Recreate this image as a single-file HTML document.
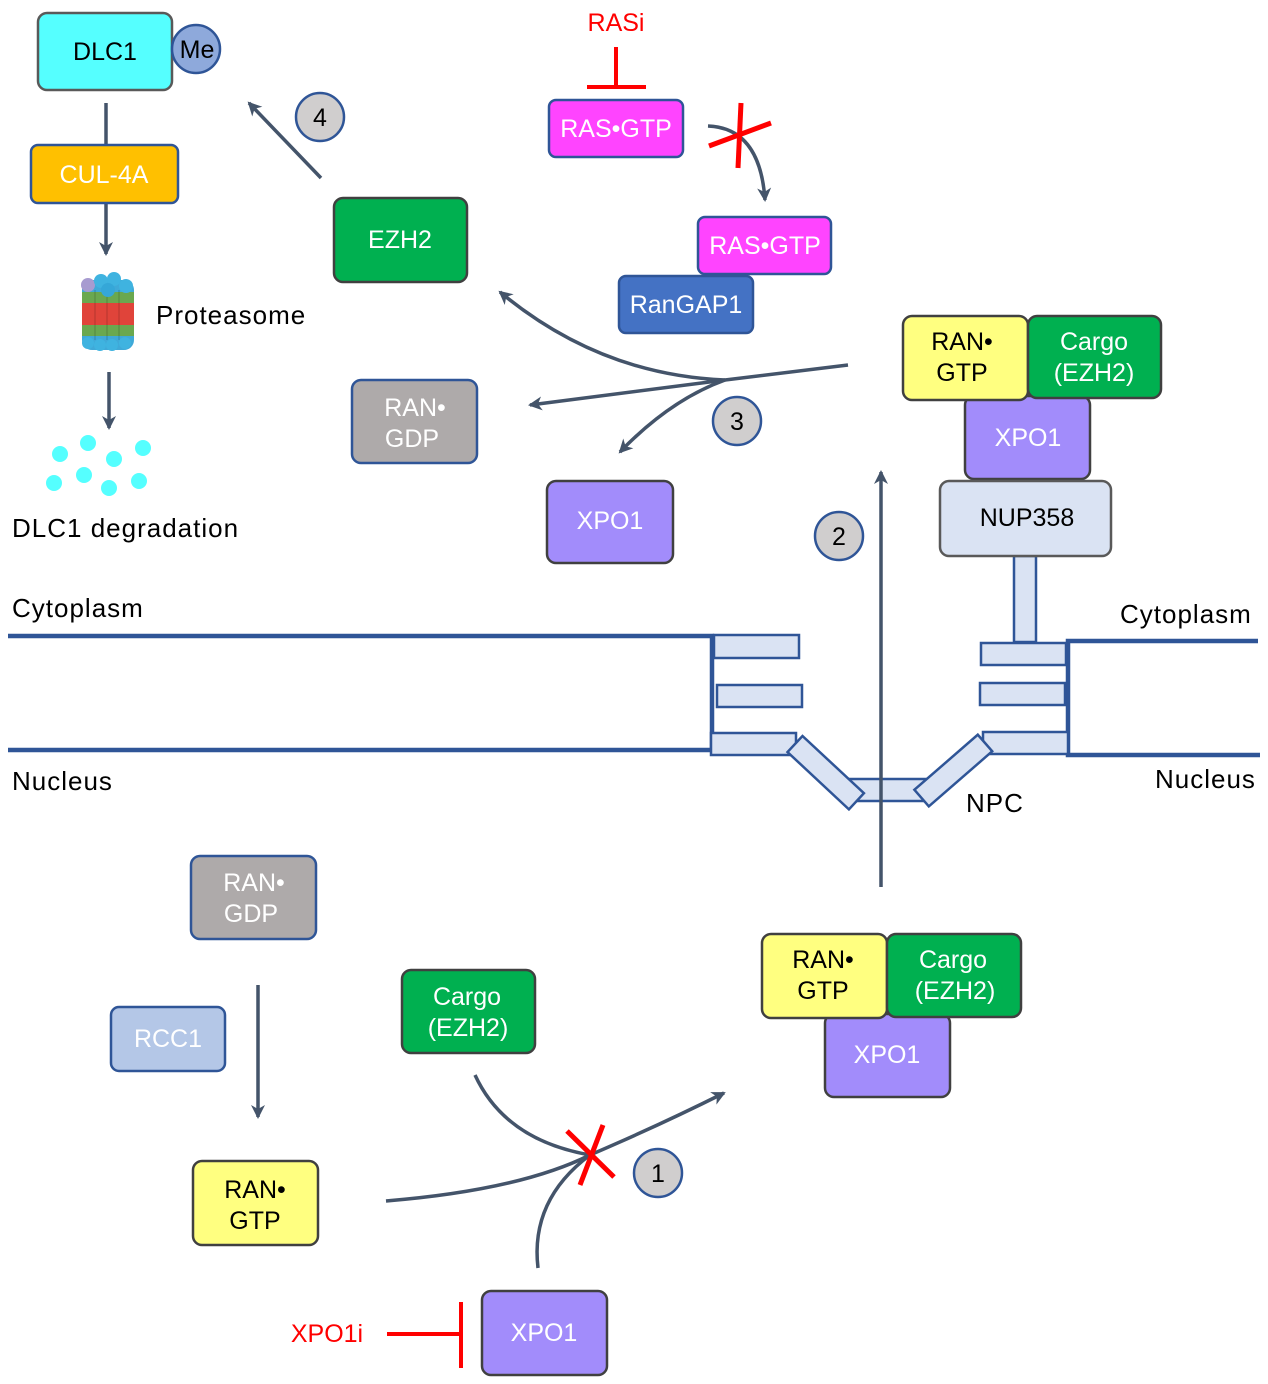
<!DOCTYPE html>
<html><head><meta charset="utf-8"><style>
html,body{margin:0;padding:0;background:#fff}
svg{display:block}
text{font-family:"Liberation Sans",sans-serif}
</style></head><body>
<svg width="1268" height="1384" viewBox="0 0 1268 1384" xmlns="http://www.w3.org/2000/svg">
<defs>
<marker id="ah2" markerWidth="16" markerHeight="16" refX="12" refY="8" orient="auto" markerUnits="userSpaceOnUse">
<path d="M0,1 L14,8 L0,15 L4,8 Z" fill="#44546a"/></marker>
</defs>
<g font-size="25" text-anchor="middle">
<g stroke="#2f5597" stroke-width="4.5" fill="none">
<path d="M8,636 H712 V750 H8"/>
<path d="M1258,641 H1068 V755 H1260"/>
</g>
<g fill="#dae3f3" stroke="#2f5597" stroke-width="2.5">
<rect x="714" y="635" width="85" height="23"/>
<rect x="717" y="685" width="85" height="22"/>
<rect x="711" y="733" width="85" height="22"/>
<rect x="1014" y="556" width="22" height="86"/>
<rect x="981" y="643" width="85" height="22"/>
<rect x="980" y="683" width="85" height="22"/>
<rect x="983" y="732" width="85" height="22"/>
<rect x="847" y="779" width="84" height="22"/>
<rect x="0" y="-11" width="84" height="22" transform="translate(795,744) rotate(43)"/>
<rect x="0" y="-11" width="84" height="22" transform="translate(985,743) rotate(139)"/>
</g>
<g stroke="#44546a" stroke-width="3.5" fill="none">
<line x1="881" y1="887" x2="881" y2="472" marker-end="url(#ah2)"/>
<line x1="106" y1="103" x2="106" y2="145"/>
<line x1="106" y1="203" x2="106" y2="254" marker-end="url(#ah2)"/>
<line x1="109" y1="372" x2="109" y2="428" marker-end="url(#ah2)"/>
<line x1="321" y1="178" x2="249" y2="103" marker-end="url(#ah2)"/>
<line x1="258" y1="985" x2="258" y2="1117" marker-end="url(#ah2)"/>
<path d="M848,365 L725,380 L530,405" marker-end="url(#ah2)"/>
<path d="M725,380 Q600,375 500,292" marker-end="url(#ah2)"/>
<path d="M725,380 Q670,400 620,452" marker-end="url(#ah2)"/>
<path d="M708,126 Q760,128 765,200" marker-end="url(#ah2)"/>
<path d="M386,1201 Q520,1190 590,1155 Q660,1125 724,1093" marker-end="url(#ah2)"/>
<path d="M475,1075 Q505,1140 590,1155"/>
<path d="M538,1268 Q530,1200 590,1155"/>
</g>
<g stroke="#f00" stroke-width="4" fill="none">
<line x1="616" y1="47" x2="616" y2="87"/>
<line x1="587" y1="87" x2="646" y2="87"/>
<line x1="387" y1="1334" x2="460" y2="1334"/>
<line x1="461" y1="1302" x2="461" y2="1368"/>
</g>
<g stroke="#f00" stroke-width="5">
<line x1="741" y1="103" x2="738" y2="168"/>
<line x1="709" y1="146" x2="771" y2="123"/>
<line x1="567" y1="1131" x2="614" y2="1177"/>
<line x1="603" y1="1125" x2="580" y2="1185"/>
</g>
<text x="616" y="31" fill="#f00">RASi</text>
<text x="327" y="1342" fill="#f00">XPO1i</text>
<g stroke-width="2.5">
<rect x="38" y="13" width="134" height="77" rx="9" fill="#5ff" stroke="#595959"/>
<circle cx="196" cy="49" r="24" fill="#8ea9db" stroke="#2f5597"/>
<rect x="31" y="145" width="147" height="58" rx="7" fill="#ffc000" stroke="#2f5597"/>
<rect x="334" y="198" width="133" height="84" rx="9" fill="#00b050" stroke="#404040"/>
<rect x="549" y="100" width="134" height="57" rx="7" fill="#f4f" stroke="#2f5597"/>
<rect x="698" y="217" width="133" height="57" rx="7" fill="#f4f" stroke="#2f5597"/>
<rect x="619" y="276" width="134" height="57" rx="7" fill="#4472c4" stroke="#2f5597"/>
<rect x="965" y="396" width="125" height="83" rx="9" fill="#a28cfb" stroke="#404040"/>
<rect x="903" y="316" width="125" height="84" rx="9" fill="#ffff80" stroke="#404040"/>
<rect x="1028" y="316" width="133" height="82" rx="9" fill="#00b050" stroke="#404040"/>
<rect x="940" y="481" width="171" height="75" rx="9" fill="#dae3f3" stroke="#595959"/>
<rect x="352" y="380" width="125" height="83" rx="9" fill="#aeaaaa" stroke="#2f5597"/>
<rect x="547" y="481" width="126" height="82" rx="9" fill="#a28cfb" stroke="#404040"/>
<rect x="191" y="856" width="125" height="83" rx="9" fill="#aeaaaa" stroke="#2f5597"/>
<rect x="111" y="1007" width="114" height="64" rx="8" fill="#b4c7e7" stroke="#2f5597"/>
<rect x="402" y="970" width="133" height="83" rx="9" fill="#00b050" stroke="#404040"/>
<rect x="193" y="1161" width="125" height="84" rx="9" fill="#ffff80" stroke="#404040"/>
<rect x="482" y="1291" width="125" height="84" rx="9" fill="#a28cfb" stroke="#404040"/>
<rect x="825" y="1014" width="125" height="83" rx="9" fill="#a28cfb" stroke="#404040"/>
<rect x="762" y="934" width="125" height="84" rx="9" fill="#ffff80" stroke="#404040"/>
<rect x="887" y="934" width="134" height="83" rx="9" fill="#00b050" stroke="#404040"/>
<circle cx="320" cy="117" r="24" fill="#d0cece" stroke="#2f5597"/>
<circle cx="737" cy="421" r="24" fill="#d0cece" stroke="#2f5597"/>
<circle cx="839" cy="536" r="24" fill="#d0cece" stroke="#2f5597"/>
<circle cx="658" cy="1173" r="24" fill="#d0cece" stroke="#2f5597"/>
</g>
<g>
<rect x="82" y="280" width="52" height="70" rx="10" fill="#3fa9d8"/>
<rect x="82" y="292" width="52" height="11" fill="#6aa84f"/>
<rect x="82" y="303" width="52" height="11" fill="#e0443a"/>
<rect x="82" y="314" width="52" height="11" fill="#e0443a"/>
<rect x="82" y="325" width="52" height="11" fill="#6aa84f"/>
<g fill="#3fb3e0"><circle cx="88" cy="343" r="6"/><circle cx="100" cy="345" r="6"/><circle cx="112" cy="345" r="6"/><circle cx="125" cy="343" r="6"/></g>
<g fill="none" stroke="rgba(0,0,0,0.2)" stroke-width="1"><line x1="95" y1="290" x2="95" y2="340"/><line x1="107" y1="290" x2="107" y2="340"/><line x1="119" y1="290" x2="119" y2="340"/></g>
<circle cx="88" cy="285" r="7" fill="#a79bd0"/>
<circle cx="101" cy="281" r="7" fill="#3fb3e0"/>
<circle cx="114" cy="279" r="7" fill="#3fb3e0"/>
<circle cx="126" cy="286" r="7" fill="#3fb3e0"/>
<circle cx="108" cy="290" r="7" fill="#35a7d8"/>
</g>
<g fill="#5ff">
<circle cx="60" cy="454" r="8"/><circle cx="88" cy="443" r="8"/><circle cx="114" cy="459" r="8"/><circle cx="143" cy="448" r="8"/>
<circle cx="54" cy="483" r="8"/><circle cx="84" cy="475" r="8"/><circle cx="109" cy="488" r="8"/><circle cx="139" cy="481" r="8"/>
</g>
<text x="105" y="60">DLC1</text>
<text x="197" y="58">Me</text>
<text x="104" y="183" fill="#fff">CUL-4A</text>
<text x="400" y="248" fill="#fff">EZH2</text>
<text x="616" y="137" fill="#fff">RAS•GTP</text>
<text x="765" y="254" fill="#fff">RAS•GTP</text>
<text x="686" y="313" fill="#fff">RanGAP1</text>
<text x="962" y="350">RAN•</text><text x="962" y="381">GTP</text>
<text x="1094" y="350" fill="#fff">Cargo</text><text x="1094" y="381" fill="#fff">(EZH2)</text>
<text x="1028" y="446" fill="#fff">XPO1</text>
<text x="1027" y="526">NUP358</text>
<text x="415" y="416" fill="#fff">RAN•</text><text x="412" y="447" fill="#fff">GDP</text>
<text x="610" y="529" fill="#fff">XPO1</text>
<text x="254" y="891" fill="#fff">RAN•</text><text x="251" y="922" fill="#fff">GDP</text>
<text x="168" y="1047" fill="#fff">RCC1</text>
<text x="467" y="1005" fill="#fff">Cargo</text><text x="468" y="1036" fill="#fff">(EZH2)</text>
<text x="255" y="1198">RAN•</text><text x="255" y="1229">GTP</text>
<text x="544" y="1341" fill="#fff">XPO1</text>
<text x="887" y="1063" fill="#fff">XPO1</text>
<text x="823" y="968">RAN•</text><text x="823" y="999">GTP</text>
<text x="953" y="968" fill="#fff">Cargo</text><text x="955" y="999" fill="#fff">(EZH2)</text>
<text x="320" y="126">4</text>
<text x="737" y="430">3</text>
<text x="839" y="545">2</text>
<text x="658" y="1182">1</text>
<g text-anchor="start" font-size="26" letter-spacing="1">
<text x="156" y="324">Proteasome</text>
<text x="12" y="537">DLC1 degradation</text>
<text x="12" y="617">Cytoplasm</text>
<text x="12" y="790">Nucleus</text>
<text x="1120" y="623">Cytoplasm</text>
<text x="1155" y="788">Nucleus</text>
<text x="966" y="812">NPC</text>
</g>
</g>
</svg>
</body></html>
